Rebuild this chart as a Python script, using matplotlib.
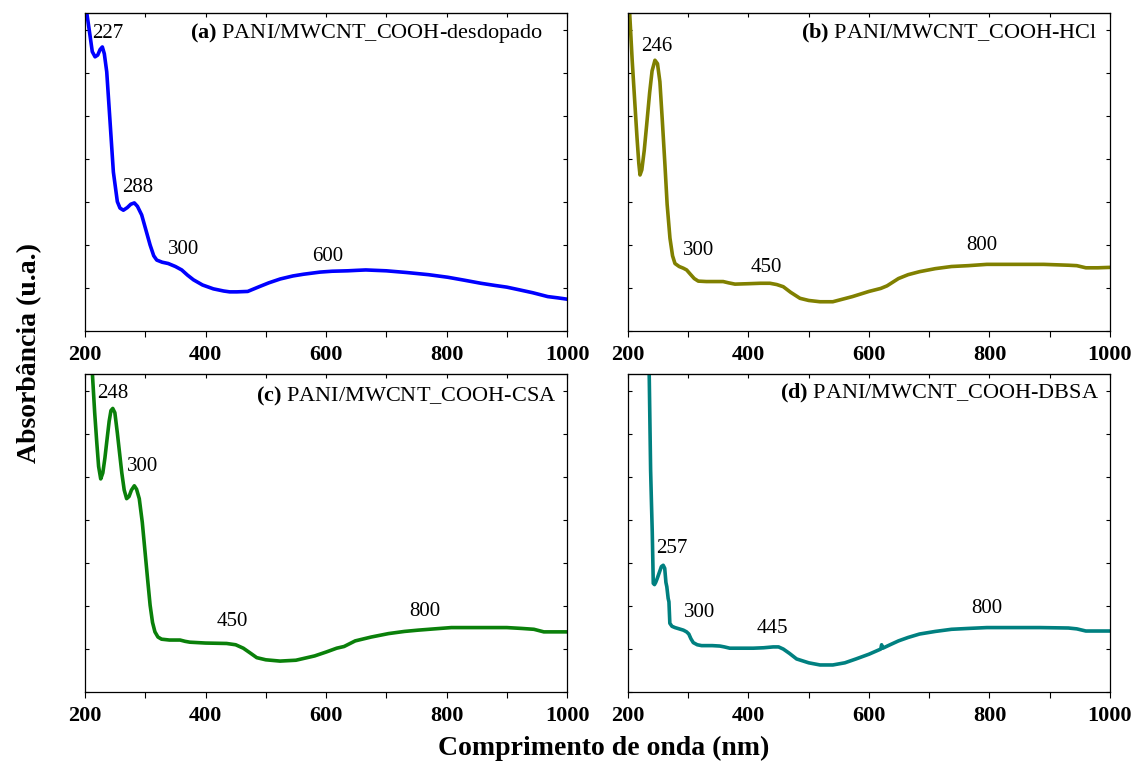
import numpy as np
import matplotlib
matplotlib.use('Agg')
from matplotlib import pyplot as plt

# wavelength (nm) / absorbance (a.u.) for each sample
wl_a = [201, 203, 208, 212, 216.6, 221, 225, 228.7, 232, 236, 241.5, 247, 253.6, 258, 263.6,
        270, 276, 281.8, 287, 294, 301, 308, 314, 319, 328, 338, 350, 360.5, 370, 380, 395,
        413, 430, 440, 452, 470, 489, 505, 524, 545, 562.5, 590, 610, 636, 650, 666, 700,
        734, 770, 802, 830, 857, 880, 900, 920, 943, 968, 985, 1000]
abs_a = [7.9, 7.39, 6.9, 6.5, 6.38, 6.42, 6.55, 6.61, 6.45, 6.03, 4.87, 3.70, 3.01, 2.86, 2.81,
         2.87, 2.95, 2.98, 2.90, 2.70, 2.35, 2.0, 1.75, 1.65, 1.60, 1.57, 1.50, 1.42, 1.30, 1.19, 1.07,
         0.98, 0.93, 0.91, 0.91, 0.92, 1.03, 1.12, 1.21, 1.28, 1.32, 1.37, 1.39, 1.40, 1.41, 1.42, 1.40,
         1.36, 1.31, 1.25, 1.18, 1.11, 1.06, 1.02, 0.96, 0.89, 0.80, 0.77, 0.74]

wl_b = [201, 203, 207, 211.6, 215, 218, 220, 223, 227, 231, 236, 240, 244.8, 249, 253, 257,
        261.4, 265, 269.7, 274, 278, 285, 292, 297.4, 303, 310, 316.7, 330, 345, 358, 367,
        377.6, 400, 420, 435.7, 447, 457.8, 470, 485.5, 500, 518.7, 540, 572.6, 600, 619.6,
        630, 649, 665, 684, 710, 737, 765, 795.7, 825, 854.5, 890, 931, 945, 960, 980, 1000]
abs_b = [8.5, 7.35, 6.3, 5.26, 4.5, 3.9, 3.63, 3.75, 4.2, 4.79, 5.55, 6.05, 6.30, 6.22, 5.80, 4.9,
         3.86, 2.95, 2.16, 1.75, 1.57, 1.50, 1.46, 1.42, 1.33, 1.22, 1.16, 1.15, 1.15, 1.15, 1.12,
         1.09, 1.10, 1.11, 1.11, 1.08, 1.03, 0.90, 0.76, 0.71, 0.68, 0.68, 0.80, 0.92, 0.99,
         1.05, 1.22, 1.31, 1.38, 1.45, 1.50, 1.52, 1.55, 1.55, 1.55, 1.55, 1.53, 1.52, 1.47, 1.47, 1.48]

wl_c = [210, 212.8, 216, 219.4, 222.5, 226, 229.5, 233, 236, 240, 243, 246, 249.5, 253.6, 257,
        261, 265, 269, 273, 277, 281.8, 285.5, 290, 295, 299.6, 304, 308, 312, 316, 321, 327,
        340, 357.7, 366, 374, 400, 435, 450, 462.7, 475, 485, 500, 523.6, 550, 581, 600, 617.7,
        630, 648.4, 675, 703.7, 730, 752.7, 780, 808, 857, 900, 924.7, 945, 961.5, 980, 1000]
abs_c = [8.0, 7.26, 6.5, 5.82, 5.25, 4.96, 5.1, 5.45, 5.82, 6.3, 6.55, 6.6, 6.5, 6.03, 5.6,
         5.1, 4.7, 4.5, 4.55, 4.7, 4.8, 4.72, 4.5, 3.95, 3.26, 2.6, 2.02, 1.62, 1.40, 1.28, 1.23,
         1.21, 1.21, 1.18, 1.16, 1.14, 1.13, 1.10, 1.02, 0.90, 0.80, 0.75, 0.72, 0.74, 0.84, 0.93, 1.02,
         1.06, 1.19, 1.28, 1.36, 1.41, 1.44, 1.47, 1.50, 1.50, 1.50, 1.48, 1.46, 1.40, 1.40, 1.40]

wl_d = [234.5, 235.4, 236.5, 237.6, 239, 240.3, 241.2, 242, 244, 246, 248.5, 252, 255.5, 258.5,
        261, 263, 264.5, 266.7, 268, 269.5, 273, 278, 285, 292, 297.3, 301, 304.5, 308.4, 315,
        322.2, 340, 352.6, 360, 369, 385, 407.8, 425, 441, 450, 457.8, 468, 479.9, 500, 518.8,
        540, 560, 578.5, 600, 619.6, 621, 623, 635, 649, 665, 684, 710, 737, 765, 795.7, 840,
        884, 931, 945, 960, 980, 1000]
abs_d = [8.0, 7.26, 6.2, 5.16, 4.4, 3.73, 3.1, 2.53, 2.50, 2.55, 2.64, 2.78, 2.92, 2.95,
         2.88, 2.55, 2.45, 2.18, 2.10, 1.60, 1.53, 1.50, 1.47, 1.44, 1.40, 1.35, 1.24, 1.15, 1.10,
         1.08, 1.08, 1.07, 1.05, 1.02, 1.02, 1.02, 1.03, 1.05, 1.05, 1.0, 0.90, 0.77, 0.68, 0.63,
         0.63, 0.68, 0.77, 0.88, 1.0, 1.1, 1.02, 1.10, 1.19, 1.27, 1.35, 1.41, 1.46, 1.48, 1.50, 1.50,
         1.50, 1.49, 1.47, 1.42, 1.42, 1.42]

# peak labels: (text, wavelength, absorbance)
peaks_a = [('227', 238, 6.93), ('288', 288, 3.35), ('300', 364, 1.9), ('600', 602, 1.74)]
peaks_b = [('246', 248, 6.63), ('300', 317, 1.88), ('450', 429, 1.47), ('800', 787, 2.0)]
peaks_c = [('248', 246, 6.95), ('300', 296, 5.26), ('450', 444, 1.63), ('800', 764, 1.88)]
peaks_d = [('257', 273, 3.35), ('300', 319, 1.84), ('445', 440, 1.49), ('800', 796, 1.95)]

titles = ['(a)', '(b)', '(c)', '(d)']
names = ['PANI/MWCNT_COOH-desdopado', 'PANI/MWCNT_COOH-HCl',
         'PANI/MWCNT_COOH-CSA', 'PANI/MWCNT_COOH-DBSA']
colors = ['#0000ff', '#808000', '#0a800a', '#008080']

plt.rcParams['font.family'] = ['Liberation Serif', 'DejaVu Serif']
plt.rcParams['mathtext.fontset'] = 'custom'
plt.rcParams['mathtext.rm'] = 'Liberation Serif'
plt.rcParams['mathtext.bf'] = 'Liberation Serif:bold'

fig = plt.figure(figsize=(11.37, 7.64), dpi=100)
boxes = [[0.0748, 0.5668, 0.4239, 0.4162], [0.5523, 0.5668, 0.4239, 0.4162],
         [0.0748, 0.0942, 0.4239, 0.4162], [0.5523, 0.0942, 0.4239, 0.4162]]
title_pos = [(0.95, 0.937), (0.973, 0.937), (0.977, 0.931), (0.978, 0.94)]
data = [(wl_a, abs_a, peaks_a), (wl_b, abs_b, peaks_b),
        (wl_c, abs_c, peaks_c), (wl_d, abs_d, peaks_d)]

for i in range(4):
    wl, ab, peaks = data[i]
    ax = fig.add_axes(boxes[i])
    ax.plot(wl, ab, color=colors[i], lw=2.6, solid_joinstyle='round')
    ax.set_xlim(200, 1000)
    ax.set_ylim(0, 7.4)
    ax.set_xticks([200, 400, 600, 800, 1000])
    ax.set_xticks([300, 500, 700, 900], minor=True)
    ax.set_yticks(range(0, 8))
    ax.tick_params(axis='x', which='both', direction='out', length=4, width=0.8,
                   top=False, labelsize=16, pad=6)
    ax.tick_params(axis='y', which='both', direction='in', length=3, width=0.8,
                   right=True, labelleft=False)
    for lbl in ax.get_xticklabels():
        lbl.set_fontweight('bold')
    # inward ticks along the top spine
    top = ax.secondary_xaxis('top')
    top.set_xticks([200, 300, 400, 500, 600, 700, 800, 900, 1000])
    top.tick_params(direction='in', length=3, width=0.8, labeltop=False)
    for sp in ax.spines.values():
        sp.set_linewidth(0.9)
    for txt, x, y in peaks:
        ax.text(x, y, txt, ha='center', va='center', fontsize=15)
    tx, ty = title_pos[i]
    ax.text(tx, ty, r'$\mathbf{%s}$ %s' % (titles[i], names[i]),
            transform=ax.transAxes, ha='right', va='center', fontsize=16)

fig.text(0.531, 0.021, 'Comprimento de onda (nm)', ha='center', va='center',
         fontsize=20, fontweight='bold')
fig.text(0.026, 0.538, 'Absorbância (u.a.)', ha='center', va='center',
         rotation=90, fontsize=20, fontweight='bold')

fig.savefig('out.png', dpi=100)
